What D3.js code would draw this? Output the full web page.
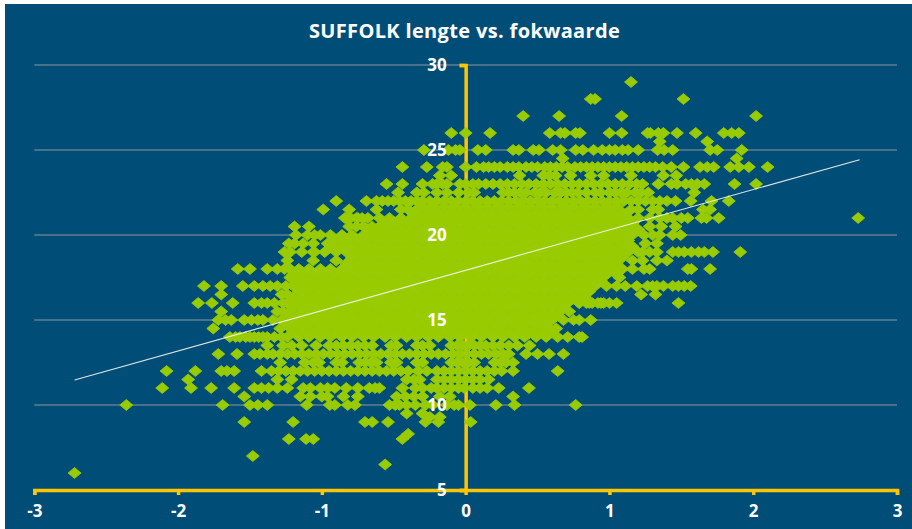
<!DOCTYPE html>
<html><head><meta charset="utf-8">
<script src="https://cdn.jsdelivr.net/npm/d3@7"></script>
<style>html,body{margin:0;padding:0;background:#fff}svg{display:block}</style>
</head><body><svg id="c" width="912" height="529"></svg>
<script>
const chartTitle = "SUFFOLK lengte vs. fokwaarde";
const xTicks = [-3,-2,-1,0,1,2,3];
const yTicks = [5,10,15,20,25,30];
const gridValues = [10,15,20,25,30];
const trendX = [-2.72,2.74];
const trendY = [11.47,24.43];

// Sparse rows and the scalloped ends of rows
const sparseY = [29,28,27,26,25.5,25,24.5,24,23.5,23,22.5,22,21.5,21,20.5,20,19.5,19,18.5,18,17.5,17,16.5,16,15.5,15,14.5,14,13.5,13,12.5,12,11.5,11,10.5,10,9.5,9.3,9,8.3,8,7,6.5,6];
const sparseX = [
[1.15],
[.87,.9,1.515],
[.4,.65,1.085,2.02],
[-.1,0,.17,.585,.66,.69,.765,.795,1,1.085,1.265,1.285,1.34,1.375,1.47,1.6,1.795,1.85,1.9],
[1.35,1.68],
[-.29,-.12,-.07,-.04,.085,.14,.33,.37,.47,.51,.605,.66,.765,.815,.89,.95,1,1.04,1.09,1.13,1.2,1.335,1.38,1.44,1.7,1.75,1.92],
[.675,1.885],
[-.44,-.27,-.16,-.13,0,.075,.125,.16,.2,.24,.29,.33,.37,.42,.46,.5,.55,.59,.63,.67,.71,.76,.8,.84,.88,.92,.96,1,1.04,1.08,1.12,1.16,1.2,1.24,1.28,1.32,1.37,1.43,1.515,1.63,1.68,1.725,1.84,1.9,1.97,2.1],
[-.18,-.1,.375,.54,.58,.625,.73,.87,.96,1.15,1.375,1.465],
[-.55,-.44,-.3,-.23,-.2,-.16,-.13,-.04,0,.05,.09,.14,.19,.24,.29,.34,.39,.44,.49,.54,.59,.64,.69,.74,.79,.84,.89,.94,.99,1.04,1.09,1.14,1.19,1.23,1.34,1.43,1.47,1.53,1.57,1.61,1.66,1.87,2.02],
[-.47,-.34,-.29,-.2,-.13,-.05,.02,.06,.26,.3,.34,.38,.42,.48,.52,.56,.62,.66,.7,.74,.78,.84,.9,.94,1,1.04,1.08,1.12,1.18,1.22,1.27,1.59],
[-.9,-.69,-.62,-.58,-.54,-.5,-.46,-.42,-.38,-.34,-.3,-.25,-.2,-.15,-.1,-.05,0,.05,.1,.15,.2,.25,.3,.35,.4,.45,.5,.55,.6,.65,.7,.75,.8,.85,.9,.95,1,1.05,1.1,1.15,1.2,1.25,1.3,1.35,1.4,1.46,1.565,1.71,1.83],
[-.99,-.81,-.62,-.45,-.4,-.34,1.15,1.2,1.3,1.34,1.65,1.7],
[-.84,-.8,-.76,-.72,1.4,1.44,1.5,1.545,1.64,1.675,1.76,2.73],
[-1.19,-1.09,-.81,-.76,-.71,-.65,-.6,1.28,1.36,1.46],
[-1.18,-1.1,-1.05,1.3,1.35,1.44,1.495],
[-1.23,-1.19,-1.13,-1.06,-.96,1.25,1.33],
[-1.26,-1.22,-1.14,-1.06,1.23,1.28,1.33,1.44,1.48,1.52,1.57,1.62,1.66,1.72,1.91],
[-1.24,-1.06,-.9,1.16,1.23,1.33,1.4],
[-1.585,-1.5,-1.38,-1.31,-1.26,-1.22,1.28,1.545,1.57,1.7],
[-1.22,1.07,.93],
[-1.82,-1.7,-1.55,-1.47,-1.41,-1.36,-1.31,-1.25,1.11,1.19,1.265,1.3,1.33,1.375,1.44,1.48,1.52,1.565],
[-1.7,-1.28,-1.24,1.22,1.32],
[-1.86,-1.765,-1.62,-1.47,-1.42,-1.38,-1.33,-1.27,.79,.84,.88,.92,.96,1,1.05,1.48],
[-1.7,-1.31,-1.27,.72],
[-1.72,-1.67,-1.63,-1.54,-1.49,-1.445,-1.41,-1.34,.79,.87],
[-1.755,-1.29,.63],
[-1.64,-1.6,-1.57,-1.53,-1.5,-1.47,-1.44,-1.41,-1.38,-1.33,-1.28,.81],
[-1.38,-1.27,-1.21,-1.14,-1.04,-.95,-.9,-.85,-.8,-.75,-.7,-.65,-.52,-.48,-.34,-.3,-.25,-.1,-.06,-.02,.02,.06,.1,.14,.19,.24,.3,.36,.445],
[-1.72,-1.59,-1.47,-1.43,-1.38,-1.34,-1.29,-1.24,-1.19,-1.14,-1.09,-1.04,-.99,-.94,-.89,-.84,-.79,-.74,-.69,-.64,-.59,-.54,-.49,-.44,-.39,-.34,-.29,-.24,-.19,-.14,-.09,-.04,.01,.06,.11,.16,.21,.26,.3,.42,.5,.58,.68],
[-1.29,-1.12,-1.06,-1.02,-.9,-.86,-.74,-.7,-.66,-.62,-.52,-.48,-.34,-.3,-.1,-.06,-.02,.02,.06,.2,.24,.28,.33],
[-2.08,-1.88,-1.7,-1.66,-1.61,-1.42,-1.35,-1.3,-1.25,-1.2,-1.15,-1.1,-1.05,-1,-.95,-.9,-.85,-.8,-.75,-.7,-.65,-.6,-.55,-.5,-.45,-.4,-.33,-.27,-.2,-.15,-.1,-.05,0,.05,.1,.15,.2,.25,.33,.64],
[-1.93,-1.31,-1.21,-.41,-.36,-.32,-.2,-.15,-.1,-.05,0,.05,.1,.16],
[-2.11,-1.91,-1.77,-1.61,-1.47,-1.42,-1.37,-1.31,-1.24,-1.13,-1.08,-1.01,-.96,-.91,-.83,-.75,-.67,-.63,-.6,-.44,-.35,-.3,-.24,-.2,-.15,-.1,-.05,-.01,.05,.1,.15,.23,.44],
[-1.54,-1.15,-1.08,-1,-.96,-.85,-.75,-.48,-.42,-.36,-.3,-.18,-.11,.33],
[-2.36,-1.69,-1.5,-1.445,-1.38,-1.105,-.945,-.91,-.82,-.77,-.53,-.49,-.46,-.41,-.35,-.28,-.23,-.13,-.08,-.05,.03,.21,.34,.765],
[-.41,-.3],
[-.25,-.18],
[-1.54,-1.2,-.7,-.65,-.54,-.28,-.19,.035],
[-.4],
[-1.23,-1.11,-1.06,-.44],
[-1.48],
[-.56],
[-2.72]
];

// Rows of the solid central mass, estimated from its outline
const massY = [21.67,21.33,21,20.67,20.33,20,19.67,19.33,19,18.67,18.33,18,17.67,17.33,17,16.67,16.33,16,15.67,15.33,15,14.67,14.33,14];
const massX = [
[-.3,-.23,-.15,-.08,0,.08,.15,.23,.3,.38,.45,.53,.6,.68,.75,.83,.9,.98,1.05],
[-.34,-.26,-.19,-.11,-.04,.04,.11,.19,.26,.34,.41,.49,.56,.64,.71,.79,.86,.94,1.01,1.09],
[-.83,-.75,-.68,-.6,-.53,-.45,-.38,-.3,-.23,-.15,-.08,0,.08,.15,.23,.3,.38,.45,.53,.6,.68,.75,.83,.9,.98,1.05,1.13,1.2,1.28,1.35],
[-.56,-.49,-.41,-.34,-.26,-.19,-.11,-.04,.04,.11,.19,.26,.34,.41,.49,.56,.64,.71,.79,.86,.94,1.01,1.09,1.16],
[-.68,-.6,-.53,-.45,-.38,-.3,-.23,-.15,-.08,0,.08,.15,.23,.3,.38,.45,.53,.6,.68,.75,.83,.9,.98,1.05,1.13,1.2],
[-1.01,-.94,-.86,-.79,-.71,-.64,-.56,-.49,-.41,-.34,-.26,-.19,-.11,-.04,.04,.11,.19,.26,.34,.41,.49,.56,.64,.71,.79,.86,.94,1.01,1.09,1.16,1.24],
[-.9,-.83,-.75,-.68,-.6,-.53,-.45,-.38,-.3,-.23,-.15,-.08,0,.08,.15,.23,.3,.38,.45,.53,.6,.68,.75,.83,.9,.98,1.05,1.13],
[-.94,-.86,-.79,-.71,-.64,-.56,-.49,-.41,-.34,-.26,-.19,-.11,-.04,.04,.11,.19,.26,.34,.41,.49,.56,.64,.71,.79,.86,.94,1.01,1.09,1.16],
[-1.05,-.98,-.9,-.83,-.75,-.68,-.6,-.53,-.45,-.38,-.3,-.23,-.15,-.08,0,.08,.15,.23,.3,.38,.45,.53,.6,.68,.75,.83,.9,.98,1.05,1.13,1.2],
[-.79,-.71,-.64,-.56,-.49,-.41,-.34,-.26,-.19,-.11,-.04,.04,.11,.19,.26,.34,.41,.49,.56,.64,.71,.79,.86,.94,1.01,1.09],
[-.83,-.75,-.68,-.6,-.53,-.45,-.38,-.3,-.23,-.15,-.08,0,.08,.15,.23,.3,.38,.45,.53,.6,.68,.75,.83,.9,.98,1.05],
[-1.16,-1.09,-1.01,-.94,-.86,-.79,-.71,-.64,-.56,-.49,-.41,-.34,-.26,-.19,-.11,-.04,.04,.11,.19,.26,.34,.41,.49,.56,.64,.71,.79,.86,.94,1.01,1.09,1.16,1.24],
[-1.2,-1.13,-1.05,-.98,-.9,-.83,-.75,-.68,-.6,-.53,-.45,-.38,-.3,-.23,-.15,-.08,0,.08,.15,.23,.3,.38,.45,.53,.6,.68,.75,.83,.9,.98,1.05],
[-1.16,-1.09,-1.01,-.94,-.86,-.79,-.71,-.64,-.56,-.49,-.41,-.34,-.26,-.19,-.11,-.04,.04,.11,.19,.26,.34,.41,.49,.56,.64,.71,.79,.86,.94],
[-1.2,-1.13,-1.05,-.98,-.9,-.83,-.75,-.68,-.6,-.53,-.45,-.38,-.3,-.23,-.15,-.08,0,.08,.15,.23,.3,.38,.45,.53,.6,.68,.75,.83,.9,.98,1.05],
[-1.16,-1.09,-1.01,-.94,-.86,-.79,-.71,-.64,-.56,-.49,-.41,-.34,-.26,-.19,-.11,-.04,.04,.11,.19,.26,.34,.41,.49,.56,.64,.71,.79,.86],
[-1.2,-1.13,-1.05,-.98,-.9,-.83,-.75,-.68,-.6,-.53,-.45,-.38,-.3,-.23,-.15,-.08,0,.08,.15,.23,.3,.38,.45,.53,.6,.68,.75,.83],
[-1.24,-1.16,-1.09,-1.01,-.94,-.86,-.79,-.71,-.64,-.56,-.49,-.41,-.34,-.26,-.19,-.11,-.04,.04,.11,.19,.26,.34,.41,.49,.56,.64,.71,.79,.86,.94],
[-1.2,-1.13,-1.05,-.98,-.9,-.83,-.75,-.68,-.6,-.53,-.45,-.38,-.3,-.23,-.15,-.08,0,.08,.15,.23,.3,.38,.45,.53,.6,.68],
[-1.24,-1.16,-1.09,-1.01,-.94,-.86,-.79,-.71,-.64,-.56,-.49,-.41,-.34,-.26,-.19,-.11,-.04,.04,.11,.19,.26,.34,.41,.49,.56,.64],
[-1.28,-1.2,-1.13,-1.05,-.98,-.9,-.83,-.75,-.68,-.6,-.53,-.45,-.38,-.3,-.23,-.15,-.08,0,.08,.15,.23,.3,.38,.45,.53,.6,.68,.75],
[-1.24,-1.16,-1.09,-1.01,-.94,-.86,-.79,-.71,-.64,-.56,-.49,-.41,-.34,-.26,-.19,-.11,-.04,.04,.11,.19,.26,.34,.41,.49,.56],
[-1.2,-1.13,-1.05,-.98,-.9,-.83,-.75,-.68,-.6,-.53,-.45,-.38,-.3,-.23,-.15,-.08,0,.08,.15,.23,.3,.38,.45,.53,.6],
[-1.24,-1.16,-1.09,-1.01,-.94,-.86,-.79,-.71,-.64,-.56,-.49,-.41,-.34,-.26,-.19,-.11,-.04,.04,.11,.19,.26,.34,.41,.49,.56,.64,.71,.79]
];

const svg = d3.select("#c");
const x = d3.scaleLinear().domain([-3,3]).range([34.3,897]);
const y = d3.scaleLinear().domain([5,30]).range([490,65]);

svg.append("rect").attr("x",5).attr("y",4).attr("width",907).attr("height",525).attr("fill","#004e78");

svg.append("g").selectAll("line").data(gridValues).join("line")
  .attr("x1",x(-3)).attr("x2",x(3)).attr("y1",d=>y(d)).attr("y2",d=>y(d))
  .attr("stroke","#5f7f93").attr("stroke-width",1.3);

const gx = svg.append("g").attr("transform",`translate(0,${y(5)})`)
  .call(d3.axisBottom(x).tickValues(xTicks).tickSize(5).tickSizeOuter(5).tickFormat(""));
const gy = svg.append("g").attr("transform",`translate(${x(0)},0)`)
  .call(d3.axisLeft(y).tickValues(yTicks).tickSize(6).tickSizeOuter(6).tickFormat(""));
[gx,gy].forEach(g=>{
  g.selectAll("path").attr("stroke","#ffc600").attr("stroke-width",3.5).attr("fill","none");
  g.selectAll("line").attr("stroke","#ffc600").attr("stroke-width",3.5);
});

const points = [];
massY.forEach((v,i)=>massX[i].forEach(u=>points.push([u,v])));
sparseY.forEach((v,i)=>sparseX[i].forEach(u=>points.push([u,v])));

svg.append("g").selectAll("path").data(points).join("path")
  .attr("d","M0,-5.5L6.5,0L0,5.5L-6.5,0Z")
  .attr("transform",d=>`translate(${x(d[0])},${y(d[1])})`)
  .attr("fill","#99cc00").attr("stroke","#99cc00").attr("stroke-width",.8);

svg.append("line")
  .attr("x1",x(trendX[0])).attr("y1",y(trendY[0]))
  .attr("x2",x(trendX[1])).attr("y2",y(trendY[1]))
  .attr("stroke","#f4f8f0").attr("stroke-width",1.1).attr("opacity",.9);

const font = "'Open Sans',sans-serif";
const lx = svg.append("g").attr("transform",`translate(0,${y(5)})`)
  .call(d3.axisBottom(x).tickValues(xTicks).tickSize(0).tickPadding(15).tickFormat(d=>String(d)));
const ly = svg.append("g").attr("transform",`translate(${x(0)},0)`)
  .call(d3.axisLeft(y).tickValues(yTicks).tickSize(0).tickPadding(19).tickFormat(d=>String(d)));
[lx,ly].forEach(g=>{
  g.select("path").remove();
  g.selectAll("text").attr("fill","#fff").attr("font-family",font).attr("font-size",17).attr("font-weight",700);
});

svg.append("text").attr("x",464.5).attr("y",38).attr("text-anchor","middle")
  .attr("fill","#fff").attr("font-family",font).attr("font-size",20).attr("font-weight",700)
  .attr("letter-spacing",.35)
  .text(chartTitle);
</script></body></html>
